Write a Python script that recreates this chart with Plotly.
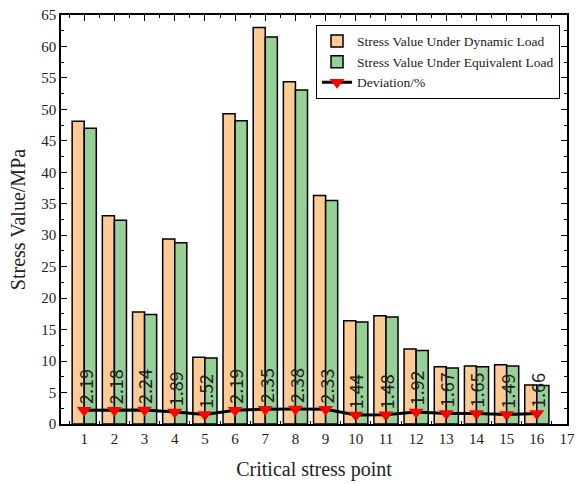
import plotly.graph_objects as go

points = list(range(1, 17))
dynamic_load = [48.1, 33.1, 17.8, 29.4, 10.6, 49.3, 63.0, 54.4, 36.3, 16.4, 17.2, 11.9, 9.1, 9.2, 9.4, 6.2]
equivalent_load = [47.0, 32.4, 17.4, 28.8, 10.5, 48.2, 61.5, 53.1, 35.5, 16.2, 17.0, 11.7, 8.9, 9.1, 9.2, 6.1]
deviation = [2.19, 2.18, 2.24, 1.89, 1.52, 2.19, 2.35, 2.38, 2.33, 1.44, 1.48, 1.92, 1.67, 1.65, 1.49, 1.66]
x_ticks = list(range(1, 18))
y_ticks = list(range(0, 70, 5))

serif = "Liberation Serif, Times New Roman, serif"

fig = go.Figure()
fig.add_trace(go.Bar(
    x=points, y=dynamic_load, name="Stress Value Under Dynamic Load",
    offset=-0.4, width=0.4,
    marker=dict(color="#FDCB93", line=dict(color="black", width=1.5)),
))
fig.add_trace(go.Bar(
    x=points, y=equivalent_load, name="Stress Value Under Equivalent Load",
    offset=0.0, width=0.4,
    marker=dict(color="#96D097", line=dict(color="black", width=1.5)),
))
fig.add_trace(go.Scatter(
    x=points, y=deviation, name="Deviation/%", mode="lines+markers",
    line=dict(color="black", width=3),
    marker=dict(symbol="triangle-down", size=13, color="#FF0000"),
))

annotations = []
for xv, dv in zip(points, deviation):
    annotations.append(dict(
        x=xv, y=dv, xref="x", yref="y", text=f"{dv:.2f}", showarrow=False,
        textangle=-90, yanchor="bottom", xanchor="center", yshift=4,
        font=dict(family="Noto Sans CJK SC, DejaVu Sans", size=18, color="#222222"),
    ))

axis_common = dict(
    showline=True, linecolor="black", linewidth=1.5, mirror="ticks",
    ticks="inside", ticklen=6, tickwidth=1.2, tickcolor="black",
    showgrid=False, zeroline=False, automargin=False,
    ticklabeloverflow="allow",
    tickfont=dict(family=serif, size=15, color="#222222"),
)

fig.update_layout(
    width=577, height=484,
    margin=dict(l=61, r=10, t=15, b=60),
    paper_bgcolor="white", plot_bgcolor="white",
    barmode="overlay",
    font=dict(family=serif, color="#222222"),
    annotations=annotations,
    legend=dict(
        x=0.504, y=0.976, xanchor="left", yanchor="top",
        bgcolor="white", bordercolor="black", borderwidth=1,
        font=dict(family=serif, size=13.5, color="#222222"),
        tracegroupgap=0, itemwidth=30,
    ),
    xaxis=dict(
        range=[0.23, 17], tickvals=x_ticks,
        minor=dict(dtick=0.5, tick0=0.5, ticks="inside", ticklen=3, tickcolor="black"),
        title=dict(text="Critical stress point", font=dict(family=serif, size=20), standoff=16),
        **axis_common,
    ),
    yaxis=dict(
        range=[0, 65], tickvals=y_ticks,
        minor=dict(dtick=2.5, ticks="inside", ticklen=3, tickcolor="black"),
        title=dict(text="Stress Value/MPa", font=dict(family=serif, size=20), standoff=10),
        **axis_common,
    ),
)

fig.write_html("out.html", config={"displayModeBar": False},
               post_script="document.body.style.margin='0';")
